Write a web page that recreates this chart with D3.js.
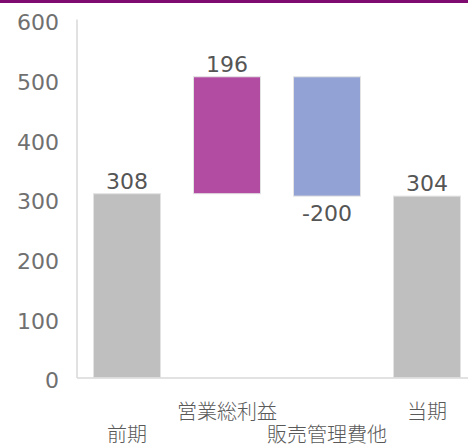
<!DOCTYPE html>
<html><head><meta charset="utf-8">
<script src="https://cdn.jsdelivr.net/npm/d3@7"></script>
<style>html,body{margin:0;padding:0;background:#fff;overflow:hidden}</style>
</head><body>
<svg id="c" width="468" height="447"></svg>
<script>
const categories = ["前期", "営業総利益", "販売管理費他", "当期"];
const deltas = [308, 196, -200, 304];
const kinds = ["total", "delta", "delta", "total"];
const colors = ["#bfbfbf", "#b24ca2", "#93a2d4", "#bfbfbf"];
const yTicks = [0, 100, 200, 300, 400, 500, 600];

// build waterfall ranges
let run = 0;
const bars = categories.map((c, i) => {
  let y0, y1;
  if (kinds[i] === "total") { y0 = 0; y1 = deltas[i]; run = deltas[i]; }
  else { y0 = run; y1 = run + deltas[i]; run = y1; }
  return {c, v: deltas[i], lo: Math.min(y0, y1), hi: Math.max(y0, y1), color: colors[i], i};
});

const svg = d3.select("#c");
svg.append("rect").attr("x", 0).attr("y", 0).attr("width", 468).attr("height", 3).attr("fill", "#7f0a70");

const x = d3.scaleBand().domain(categories).range([77, 477]).paddingInner(0.33).paddingOuter(0.165);
const y = d3.scaleLinear().domain([0, 600]).range([377.5, 19.5]);

// y tick labels
const yAxis = d3.axisLeft(y).tickValues(yTicks).tickSize(0).tickPadding(18);
const gy = svg.append("g").attr("transform", "translate(77,0)").call(yAxis);
gy.select(".domain").remove();
gy.selectAll("text").attr("font-family", "DejaVu Sans, Verdana, sans-serif").attr("font-size", 22).attr("fill", "#707070").attr("dy", "0.38em")
  .attr("transform", "translate(0,2)");

// bars
svg.append("g").selectAll("rect").data(bars).join("rect")
  .attr("x", d => x(d.c))
  .attr("y", d => y(d.hi))
  .attr("width", x.bandwidth())
  .attr("height", d => y(d.lo) - y(d.hi))
  .attr("fill", d => d.color)
  .attr("stroke", "#e3e3e3")
  .attr("stroke-width", 1);

// axes lines
svg.append("line").attr("x1", 77).attr("x2", 77).attr("y1", y(600)).attr("y2", 378).attr("stroke", "#d9d9d9").attr("stroke-width", 1.5);
svg.append("line").attr("x1", 77).attr("x2", 468).attr("y1", 378).attr("y2", 378).attr("stroke", "#d9d9d9").attr("stroke-width", 1.5);

// value labels
svg.append("g").selectAll("text").data(bars).join("text")
  .attr("x", d => x(d.c) + x.bandwidth() / 2)
  .attr("y", d => d.v < 0 ? y(d.lo) + 25 : y(d.hi) - 5)
  .attr("text-anchor", "middle")
  .attr("font-family", "DejaVu Sans, Verdana, sans-serif")
  .attr("font-size", 22)
  .attr("fill", "#555555")
  .text(d => d.v);

// category labels (staggered)
const xAxis = d3.axisBottom(x).tickSize(0);
const gx = svg.append("g").attr("transform", "translate(0,378)").call(xAxis);
gx.select(".domain").remove();
gx.selectAll("text")
  .attr("font-family", "Noto Sans CJK JP, sans-serif")
  .attr("font-size", 20)
  .attr("font-weight", 300)
  .attr("fill", "#595959")
  .attr("dy", null)
  .attr("y", (d, i) => i % 2 === 0 ? 64 : 41);
</script>
</body></html>
